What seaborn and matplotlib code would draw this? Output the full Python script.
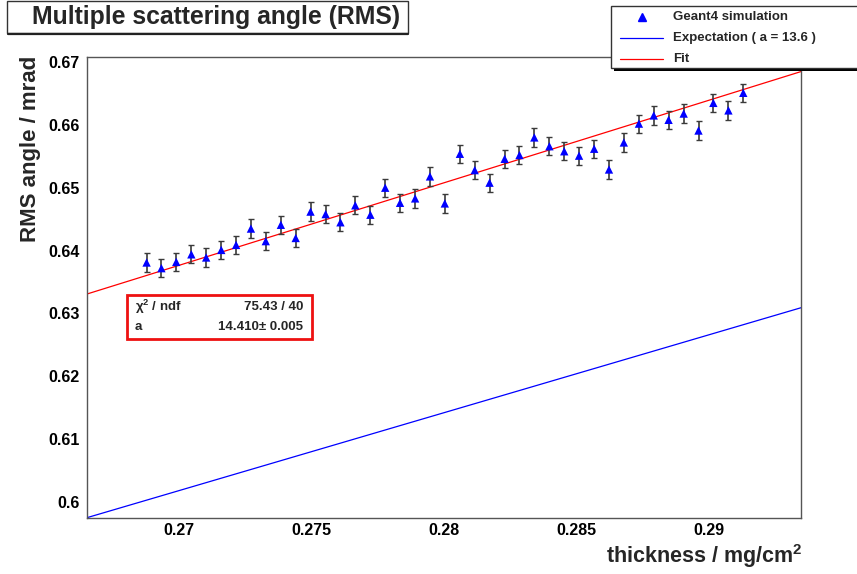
import numpy as np
import pandas as pd
import matplotlib
matplotlib.use("Agg")
import matplotlib.pyplot as plt
import seaborn as sns
from matplotlib.patches import Rectangle
from matplotlib.lines import Line2D
from matplotlib.ticker import MultipleLocator, FuncFormatter

# Simulated RMS scattering angle versus target thickness
thickness = [0.26876, 0.26932, 0.26988, 0.27045, 0.27101, 0.27158, 0.27214,
             0.27270, 0.27326, 0.27383, 0.27439, 0.27495, 0.27552, 0.27608,
             0.27664, 0.27721, 0.27777, 0.27833, 0.27890, 0.27946, 0.28002,
             0.28059, 0.28115, 0.28171, 0.28228, 0.28284, 0.28340, 0.28397,
             0.28453, 0.28509, 0.28566, 0.28622, 0.28678, 0.28735, 0.28791,
             0.28847, 0.28904, 0.28960, 0.29016, 0.29073, 0.29129]
rms_angle = [0.6381, 0.6372, 0.6382, 0.6394, 0.6389, 0.6401, 0.6409,
             0.6435, 0.6415, 0.6441, 0.6420, 0.6462, 0.6458, 0.6445,
             0.6472, 0.6457, 0.6500, 0.6476, 0.6483, 0.6518, 0.6475,
             0.6554, 0.6528, 0.6508, 0.6546, 0.6552, 0.6580, 0.6566,
             0.6558, 0.6551, 0.6562, 0.6529, 0.6572, 0.6602, 0.6615,
             0.6608, 0.6618, 0.6591, 0.6635, 0.6623, 0.6651]
rms_error = 0.00145  # same statistical uncertainty for every run

# Highland-type parametrisation: angle = a * (k0 + k1 * thickness)
k0, k1 = 0.019655, 0.0911
a_expected = 13.6
a_fit, a_fit_err = 14.410, 0.005
chi2, ndf = 75.43, 40

x_range = (0.26651, 0.29347)
y_range = (0.59745, 0.6708)

sns.set_theme(style="white")
plt.rcParams["font.family"] = ["Liberation Sans", "DejaVu Sans"]
plt.rcParams["font.weight"] = "bold"
plt.rcParams["mathtext.fontset"] = "custom"
plt.rcParams["mathtext.rm"] = "Liberation Sans:bold"
plt.rcParams["mathtext.bf"] = "Liberation Sans:bold"
plt.rcParams["mathtext.default"] = "rm"

W, H = 857, 574
fig = plt.figure(figsize=(W / 100, H / 100), dpi=100)
fig.patch.set_facecolor("white")


def fx(px):
    return px / W


def fy(py):
    return 1 - py / H


ax = fig.add_axes([fx(87), fy(518), fx(801 - 87), (518 - 57) / H])

grid = np.linspace(x_range[0], x_range[1], 200)
curves = pd.DataFrame({
    "thickness": np.concatenate([grid, grid]),
    "angle": np.concatenate([a_expected * (k0 + k1 * grid),
                             a_fit * (k0 + k1 * grid)]),
    "model": ["expect"] * len(grid) + ["fit"] * len(grid),
})
sns.lineplot(data=curves, x="thickness", y="angle", hue="model",
             palette={"expect": "#0000ff", "fit": "#ff0000"},
             linewidth=0.9, legend=False, ax=ax, zorder=2)

ax.errorbar(thickness, rms_angle, yerr=rms_error, fmt="none",
            ecolor="#3a3a3a", elinewidth=1.2, capsize=2.2, capthick=1.0,
            zorder=3)
sns.scatterplot(x=thickness, y=rms_angle, marker="^", color="#0000ff",
                s=36, edgecolor="none", linewidth=0, ax=ax, zorder=4)

ax.set_xlim(*x_range)
ax.set_ylim(*y_range)
ax.set_xlabel("")
ax.set_ylabel("")

ax.xaxis.set_major_locator(MultipleLocator(0.005))
ax.xaxis.set_minor_locator(MultipleLocator(0.001))
ax.yaxis.set_major_locator(MultipleLocator(0.01))
ax.yaxis.set_minor_locator(MultipleLocator(0.002))
fmt = FuncFormatter(lambda v, p: "%g" % round(v, 4))
ax.xaxis.set_major_formatter(fmt)
ax.yaxis.set_major_formatter(fmt)

ax.tick_params(axis="both", which="both", direction="in", colors="#333333",
               labelcolor="black", labelsize=11.5, top=False, right=False)
ax.tick_params(axis="both", which="major", length=9.5, width=1.0)
ax.tick_params(axis="both", which="minor", length=4.5, width=1.0)
ax.tick_params(axis="x", which="major", pad=3.5)
ax.tick_params(axis="y", which="major", pad=5)
for lab in ax.get_xticklabels() + ax.get_yticklabels():
    lab.set_fontweight("bold")
for sp in ax.spines.values():
    sp.set_color("#555555")
    sp.set_linewidth(1.0)

# Axis titles
fig.text(fx(802), fy(556), "thickness / mg/cm$^{2}$", ha="right",
         va="center", fontsize=15.5, fontweight="bold")
fig.text(fx(31), fy(56), "RMS angle / mrad", ha="center", va="top",
         rotation=90, fontsize=16, fontweight="bold")

# Title box
fig.add_artist(Rectangle((fx(7), fy(33)), fx(401), 32 / H,
                         transform=fig.transFigure, facecolor="white",
                         edgecolor="#333333", linewidth=1.0))
fig.add_artist(Line2D([fx(8), fx(408)], [fy(33.5), fy(33.5)],
                      transform=fig.transFigure, color="#222222", lw=1.6))
fig.text(fx(216), fy(17), "Multiple scattering angle (RMS)", ha="center",
         va="center", fontsize=17.8, fontweight="bold")

# Legend box with shadow
fig.add_artist(Rectangle((fx(614), fy(71)), fx(260), 63 / H,
                         transform=fig.transFigure, facecolor="black",
                         edgecolor="none"))
fig.add_artist(Rectangle((fx(611), fy(68)), fx(260), 62 / H,
                         transform=fig.transFigure, facecolor="white",
                         edgecolor="#333333", linewidth=1.0))
fig.add_artist(Line2D([fx(642)], [fy(17)], marker="^", color="#0000ff",
                      markersize=6, linestyle="none",
                      transform=fig.transFigure))
fig.add_artist(Line2D([fx(620), fx(663)], [fy(37.5), fy(37.5)],
                      color="#0000ff", lw=0.9, transform=fig.transFigure))
fig.add_artist(Line2D([fx(620), fx(663)], [fy(58.5), fy(58.5)],
                      color="#ff0000", lw=0.9, transform=fig.transFigure))
for yy, txt in [(17, "Geant4 simulation"),
                (37.5, "Expectation ( a = %g )" % a_expected),
                (58.5, "Fit")]:
    fig.text(fx(673), fy(yy), txt, ha="left", va="center", fontsize=9.5,
             fontweight="bold")

# Fit statistics box
fig.add_artist(Rectangle((fx(127), fy(338.5)), fx(185), 43.5 / H,
                         transform=fig.transFigure, facecolor="white",
                         edgecolor="#ee1111", linewidth=2.0, zorder=5))
fig.text(fx(135), fy(307), "χ$^{2}$ / ndf", ha="left", va="center",
         fontsize=9.5, fontweight="bold", zorder=6)
fig.text(fx(303), fy(307), "%.2f / %d" % (chi2, ndf), ha="right",
         va="center", fontsize=9.5, fontweight="bold", zorder=6)
fig.text(fx(135), fy(327.5), "a", ha="left", va="center", fontsize=9.5,
         fontweight="bold", zorder=6)
fig.text(fx(303), fy(327.5), "%.3f± %.3f" % (a_fit, a_fit_err), ha="right",
         va="center", fontsize=9.5, fontweight="bold", zorder=6)

fig.savefig("out.png", dpi=100, facecolor="white")
